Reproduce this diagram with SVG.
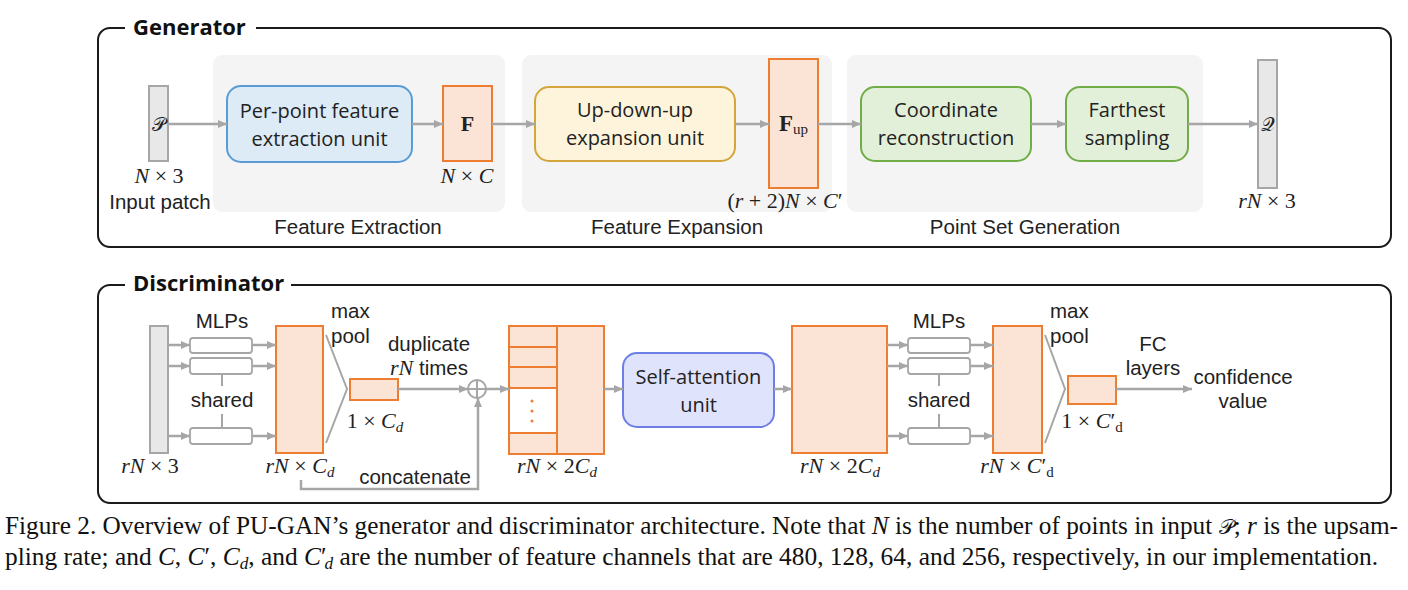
<svg xmlns="http://www.w3.org/2000/svg" width="1408" height="590" viewBox="0 0 1408 590">
<defs>
<marker id="ah" markerUnits="userSpaceOnUse" markerWidth="9" markerHeight="8" refX="9" refY="4" orient="auto">
<path d="M0,0 L9,4 L0,8 z" fill="#a6a6a6"/>
</marker>
<style>
.frame{fill:none;stroke:#1a1a1a;stroke-width:2}
.title{font-family:"Open Sans","Liberation Sans",sans-serif;font-weight:bold;font-size:22px;fill:#111}
.region{fill:#f4f4f4}
.unit{font-family:"Open Sans","Liberation Sans",sans-serif;font-size:20px;fill:#222;text-anchor:middle}
.lbl{font-family:"Liberation Sans",Arial,sans-serif;font-size:20.5px;fill:#222;text-anchor:middle}
.lbll{font-family:"Liberation Sans",Arial,sans-serif;font-size:20.5px;fill:#222}
.math{font-family:"Liberation Serif","Times New Roman",serif;font-size:22px;fill:#222;text-anchor:middle}
.it{font-style:italic}
.bar{fill:#e8e8e8;stroke:#a6a6a6;stroke-width:2}
.feat{fill:#fbe3d6;stroke:#ed7d31;stroke-width:2}
.blue{fill:#ddebf7;stroke:#5b9bd5;stroke-width:2}
.yellow{fill:#fef4dc;stroke:#d4a53a;stroke-width:2}
.green{fill:#e2f0d9;stroke:#70ad47;stroke-width:2}
.purple{fill:#dfe3fb;stroke:#6d7ee6;stroke-width:2}
.mlp{fill:#fff;stroke:#a6a6a6;stroke-width:1.8}
.arr{stroke:#a6a6a6;stroke-width:2.5;fill:none;marker-end:url(#ah)}
.gl{stroke:#a6a6a6;stroke-width:2;fill:none}
.cap{font-family:"Liberation Serif","Times New Roman",serif;font-size:25px;fill:#111}
</style>
</defs>
<rect width="1408" height="590" fill="#fff"/>

<!-- Generator frame -->
<g id="generator-frame">
<path class="frame" d="M125,28 H110 A12,12 0 0 0 98,40 V235 A12,12 0 0 0 110,247 H1379 A12,12 0 0 0 1391,235 V40 A12,12 0 0 0 1379,28 H256"/>
<text class="title" x="133" y="35">Generator</text>
</g>

<g id="regions">
<rect class="region" x="213" y="55" width="292" height="157" rx="9"/>
<rect class="region" x="522" y="55" width="310" height="157" rx="9"/>
<rect class="region" x="847" y="55" width="356" height="157" rx="9"/>
<text class="lbl" x="358" y="234">Feature Extraction</text>
<text class="lbl" x="677" y="234">Feature Expansion</text>
<text class="lbl" x="1025" y="234">Point Set Generation</text>
</g>

<g id="input-P">
<rect class="bar" x="149" y="86" width="19" height="75"/>
<text class="math" x="158.5" y="131"><tspan font-family="DejaVu Serif, serif" font-size="19">𝒫</tspan></text>
<text class="math" x="159" y="183"><tspan class="it">N</tspan> × 3</text>
<text class="lbl" x="160" y="209">Input patch</text>
</g>

<g id="per-point">
<rect class="blue" x="227" y="86" width="185" height="76" rx="14"/>
<text class="unit" x="319.5" y="118">Per-point feature</text>
<text class="unit" x="319.5" y="146">extraction unit</text>
</g>

<g id="F">
<rect class="feat" x="443" y="86" width="49" height="75"/>
<text class="math" x="467.5" y="131" font-weight="bold" font-size="23">F</text>
<text class="math" x="467" y="183"><tspan class="it">N</tspan> × <tspan class="it">C</tspan></text>
</g>

<g id="up-down-up">
<rect class="yellow" x="535" y="87" width="200" height="74" rx="14"/>
<text class="unit" x="635" y="117">Up-down-up</text>
<text class="unit" x="635" y="145">expansion unit</text>
</g>

<g id="Fup">
<rect class="feat" x="769" y="59" width="49" height="129"/>
<text class="math" x="793.5" y="131"><tspan font-weight="bold" font-size="23">F</tspan><tspan font-size="15" dy="3">up</tspan></text>
<text class="math" x="785" y="208">(<tspan class="it">r</tspan> + 2)<tspan class="it">N</tspan> × <tspan class="it">C</tspan>′</text>
</g>

<g id="coord-recon">
<rect class="green" x="861" y="87" width="170" height="74" rx="14"/>
<text class="unit" x="946" y="117">Coordinate</text>
<text class="unit" x="946" y="145">reconstruction</text>
</g>

<g id="farthest">
<rect class="green" x="1066" y="87" width="122" height="74" rx="14"/>
<text class="unit" x="1127" y="117">Farthest</text>
<text class="unit" x="1127" y="145">sampling</text>
</g>

<g id="output-Q">
<rect class="bar" x="1258" y="60" width="19" height="128"/>
<text class="math" x="1267.5" y="131"><tspan font-family="DejaVu Serif, serif" font-size="19">𝒬</tspan></text>
<text class="math" x="1267" y="208"><tspan class="it">rN</tspan> × 3</text>
</g>

<!-- Discriminator frame -->
<g id="discriminator-frame">
<path class="frame" d="M125,285 H110 A12,12 0 0 0 98,297 V491 A12,12 0 0 0 110,503 H1379 A12,12 0 0 0 1391,491 V297 A12,12 0 0 0 1379,285 H291"/>
<text class="title" x="133" y="291">Discriminator</text>
</g>

<g id="d-input">
<rect class="bar" x="150" y="326" width="18" height="127"/>
<text class="math" x="150" y="473"><tspan class="it">rN</tspan> × 3</text>
</g>

<g id="mlp1">
<rect class="mlp" x="190" y="338" width="62" height="15" rx="3"/>
<rect class="mlp" x="190" y="358" width="62" height="16" rx="3"/>
<rect class="mlp" x="190" y="428" width="62" height="16" rx="3"/>
<line class="gl" x1="222" y1="374" x2="222" y2="386"/>
<line class="gl" x1="222" y1="414" x2="222" y2="428"/>
<text class="lbl" x="222" y="328">MLPs</text>
<text class="lbl" x="222" y="407">shared</text>
</g>

<g id="feat-Cd">
<rect class="feat" x="276" y="326" width="47" height="127"/>
<text class="math" x="300" y="473"><tspan class="it">rN</tspan> × <tspan class="it">C</tspan><tspan class="it" font-size="15" dy="4">d</tspan></text>
</g>

<g id="maxpool1">
<polyline class="gl" points="326,335 347,389 326,443"/>
<text class="lbll" x="331" y="318">max</text>
<text class="lbll" x="331" y="343">pool</text>
</g>

<g id="global-Cd">
<rect class="feat" x="350" y="379" width="48" height="21"/>
<text class="math" x="375" y="428">1 × <tspan class="it">C</tspan><tspan class="it" font-size="15" dy="4">d</tspan></text>
<text class="lbl" x="429" y="351">duplicate</text>
<text class="lbl" x="429" y="375"><tspan class="it" font-family="Liberation Serif, serif" font-size="22">rN</tspan> times</text>
</g>

<g id="concat-op">
<circle cx="477" cy="389" r="9" fill="#fff" stroke="#a6a6a6" stroke-width="2"/>
<line class="gl" x1="468" y1="389" x2="486" y2="389"/>
<line class="gl" x1="477" y1="380" x2="477" y2="398"/>
</g>

<g id="concat-feat">
<rect class="feat" x="509" y="326" width="95" height="128"/>
<rect x="509" y="388" width="48" height="45" fill="#fff"/>
<path d="M557,326 V454 M509,347 H557 M509,367 H557 M509,388 H557 M509,433 H557" stroke="#ed7d31" stroke-width="2" fill="none"/>
<rect x="509" y="326" width="95" height="128" fill="none" stroke="#ed7d31" stroke-width="2"/>
<circle cx="532" cy="401" r="1.5" fill="#ed7d31"/>
<circle cx="532" cy="411" r="1.5" fill="#ed7d31"/>
<circle cx="532" cy="421" r="1.5" fill="#ed7d31"/>
<text class="math" x="557" y="473"><tspan class="it">rN</tspan> × 2<tspan class="it">C</tspan><tspan class="it" font-size="15" dy="4">d</tspan></text>
</g>

<g id="self-attention">
<rect class="purple" x="623" y="353" width="151" height="74" rx="14"/>
<text class="unit" x="698.5" y="384">Self-attention</text>
<text class="unit" x="698.5" y="412">unit</text>
</g>

<g id="attn-feat">
<rect class="feat" x="792" y="326" width="95" height="127"/>
<text class="math" x="840" y="473"><tspan class="it">rN</tspan> × 2<tspan class="it">C</tspan><tspan class="it" font-size="15" dy="4">d</tspan></text>
</g>

<g id="mlp2">
<rect class="mlp" x="908" y="338" width="62" height="15" rx="3"/>
<rect class="mlp" x="908" y="358" width="62" height="16" rx="3"/>
<rect class="mlp" x="908" y="428" width="62" height="16" rx="3"/>
<line class="gl" x1="939" y1="374" x2="939" y2="386"/>
<line class="gl" x1="939" y1="414" x2="939" y2="428"/>
<text class="lbl" x="939" y="328">MLPs</text>
<text class="lbl" x="939" y="407">shared</text>
</g>

<g id="feat-Cd2">
<rect class="feat" x="993" y="326" width="49" height="127"/>
<text class="math" x="1017" y="473"><tspan class="it">rN</tspan> × <tspan class="it">C</tspan>′<tspan font-size="15" dy="4">d</tspan></text>
</g>

<g id="maxpool2">
<polyline class="gl" points="1045,335 1065,389 1045,443"/>
<text class="lbll" x="1050" y="318">max</text>
<text class="lbll" x="1050" y="343">pool</text>
</g>

<g id="global-Cd2">
<rect class="feat" x="1068" y="376" width="48" height="28"/>
<text class="math" x="1092" y="428">1 × <tspan class="it">C</tspan>′<tspan font-size="15" dy="4">d</tspan></text>
<text class="lbl" x="1153" y="351">FC</text>
<text class="lbl" x="1153" y="375">layers</text>
</g>

<g id="confidence">
<text class="lbl" x="1243" y="384">confidence</text>
<text class="lbl" x="1243" y="408">value</text>
</g>

<g id="connectors">
<line class="arr" x1="168" y1="124" x2="227" y2="124"/>
<line class="arr" x1="412" y1="124" x2="443" y2="124"/>
<line class="arr" x1="492" y1="124" x2="535" y2="124"/>
<line class="arr" x1="735" y1="124" x2="769" y2="124"/>
<line class="arr" x1="818" y1="124" x2="861" y2="124"/>
<line class="arr" x1="1031" y1="124" x2="1066" y2="124"/>
<line class="arr" x1="1188" y1="124" x2="1258" y2="124"/>

<line class="arr" x1="168" y1="345" x2="190" y2="345"/>
<line class="arr" x1="168" y1="366" x2="190" y2="366"/>
<line class="arr" x1="168" y1="436" x2="190" y2="436"/>
<line class="arr" x1="252" y1="345" x2="276" y2="345"/>
<line class="arr" x1="252" y1="366" x2="276" y2="366"/>
<line class="arr" x1="252" y1="436" x2="276" y2="436"/>
<line class="arr" x1="398" y1="389" x2="468" y2="389"/>
<line class="arr" x1="486" y1="389" x2="509" y2="389"/>
<path class="arr" d="M301,480 V489 H478 V398"/>
<text class="lbl" x="415" y="484">concatenate</text>
<line class="arr" x1="604" y1="389" x2="623" y2="389"/>
<line class="arr" x1="774" y1="389" x2="792" y2="389"/>
<line class="arr" x1="887" y1="345" x2="908" y2="345"/>
<line class="arr" x1="887" y1="366" x2="908" y2="366"/>
<line class="arr" x1="887" y1="436" x2="908" y2="436"/>
<line class="arr" x1="970" y1="345" x2="993" y2="345"/>
<line class="arr" x1="970" y1="366" x2="993" y2="366"/>
<line class="arr" x1="970" y1="436" x2="993" y2="436"/>
<line class="arr" x1="1116" y1="389" x2="1192" y2="389"/>
</g>

<g id="caption">
<text class="cap" x="5" y="534" textLength="1393" lengthAdjust="spacingAndGlyphs">Figure 2. Overview of PU-GAN’s generator and discriminator architecture. Note that <tspan class="it">N</tspan> is the number of points in input <tspan font-family="DejaVu Serif, serif" font-size="21">𝒫</tspan>; <tspan class="it">r</tspan> is the upsam-</text>
<text class="cap" x="5" y="565" textLength="1373" lengthAdjust="spacingAndGlyphs">pling rate; and <tspan class="it">C</tspan>, <tspan class="it">C</tspan>′, <tspan class="it">C</tspan><tspan class="it" font-size="17" dy="4">d</tspan><tspan dy="-4">, and </tspan><tspan class="it">C</tspan>′<tspan class="it" font-size="17" dy="4" dx="-2">d</tspan><tspan dy="-4"> are the number of feature channels that are 480, 128, 64, and 256, respectively, in our implementation.</tspan></text>
</g>
</svg>
